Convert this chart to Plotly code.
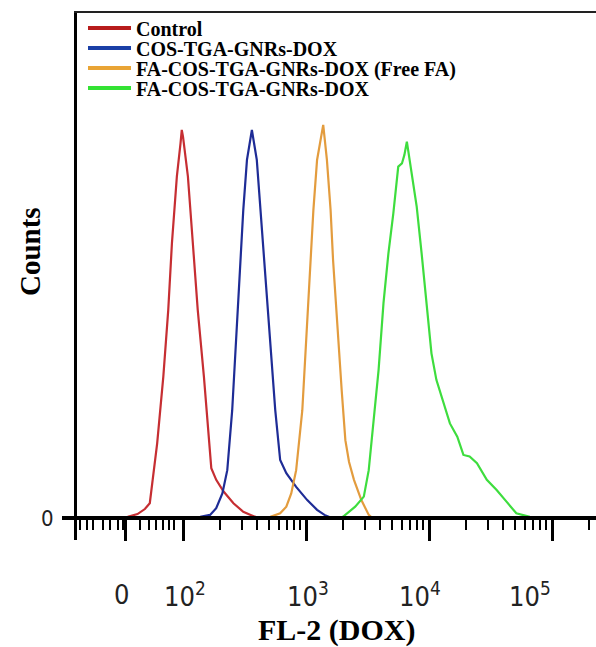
import plotly.graph_objects as go
import math

# ---------------- data (x = log10 FL-2 intensity, y = counts) ----------------
control_x = [1.47, 1.55, 1.63, 1.69, 1.73, 1.79, 1.84, 1.88, 1.91, 1.95, 1.98, 1.99,
             2.00, 2.04, 2.08, 2.12, 2.17, 2.21, 2.23, 2.27, 2.33, 2.41, 2.49, 2.55, 2.61]
control_y = [0, 0.3, 1.0, 2.3, 3.8, 19.2, 36.3, 53.4, 70.6, 87.7, 96.3, 99.7,
             98.0, 87.7, 70.6, 53.4, 36.3, 19.2, 12.8, 9.8, 6.8, 3.8, 1.6, 0.8, 0]

cos_x = [2.06, 2.14, 2.22, 2.27, 2.32, 2.36, 2.40, 2.43, 2.46, 2.49, 2.52, 2.56,
         2.60, 2.63, 2.67, 2.71, 2.75, 2.79, 2.84, 2.92, 3.01, 3.09, 3.15, 3.21]
cos_y = [0, 0.3, 0.8, 2.5, 6.3, 12.3, 27.7, 45.0, 62.0, 79.1, 92.0, 99.7,
         92.0, 79.1, 62.0, 45.0, 27.7, 14.9, 11.5, 8.0, 4.6, 2.1, 0.8, 0]

free_fa_x = [2.64, 2.71, 2.79, 2.84, 2.88, 2.92, 2.97, 3.00, 3.03, 3.06, 3.09, 3.14,
             3.17, 3.20, 3.22, 3.25, 3.29, 3.32, 3.35, 3.39, 3.45, 3.51, 3.54]
free_fa_y = [0, 0.3, 1.2, 2.9, 6.3, 12.3, 27.7, 45.0, 62.0, 79.1, 92.0, 101.0,
             92.0, 79.1, 66.3, 50.9, 32.9, 20.0, 14.4, 9.8, 4.6, 0.8, 0]

fa_x = [3.28, 3.30, 3.40, 3.47, 3.51, 3.55, 3.59, 3.63, 3.67, 3.71, 3.75, 3.78, 3.80,
        3.82, 3.86, 3.90, 3.94, 3.98, 4.02, 4.06, 4.12, 4.17, 4.23, 4.28, 4.33, 4.39,
        4.47, 4.55, 4.63, 4.71, 4.82, 4.93]
fa_y = [0, 0.3, 2.9, 5.5, 12.3, 25.2, 38.0, 55.2, 68.0, 78.3, 90.3, 91.1, 93.3,
        96.7, 88.6, 80.0, 68.0, 55.2, 42.3, 35.5, 29.5, 24.3, 20.9, 16.2, 15.8, 14.1,
        9.8, 7.2, 4.2, 1.2, 0.3, 0]

series_names = ["Control", "COS-TGA-GNRs-DOX", "FA-COS-TGA-GNRs-DOX (Free FA)", "FA-COS-TGA-GNRs-DOX"]
series_x = [control_x, cos_x, free_fa_x, fa_x]
series_y = [control_y, cos_y, free_fa_y, fa_y]

x_tick_labels = ["0", "10<sup>2</sup>", "10<sup>3</sup>", "10<sup>4</sup>", "10<sup>5</sup>"]
x_tick_label_pos = [1.50, 2.02, 3.02, 3.93, 4.82]
x_major_ticks = [1.53, 2, 3, 4, 5]
x_minor_low = [1.16, 1.22, 1.27, 1.35, 1.41, 1.47, 1.51, 1.65, 1.72, 1.78, 1.84, 1.89, 1.93]

# ---------------- styling ----------------
curve_colors = ["#C62E32", "#1E2C96", "#E39C3E", "#3EDD3E"]
legend_colors = ["#B71C1C", "#1A3FA6", "#E9A435", "#33E233"]
serif_bold = dict(family="Liberation Serif, Times New Roman, serif", color="black", weight="bold")
narrow = "Liberation Sans Narrow, DejaVu Sans Condensed, Arial Narrow, sans-serif"

x_minor = list(x_minor_low)
for d in (2, 3, 4):
    for k in range(2, 10):
        x_minor.append(d + math.log10(k))
x_minor.append(5 + math.log10(2))

fig = go.Figure()
for xs, ys, c in zip(series_x, series_y, curve_colors):
    fig.add_trace(go.Scatter(x=xs, y=ys, mode="lines", line=dict(color=c, width=2.2),
                             showlegend=False, hoverinfo="skip"))

legend_ids = ["legend", "legend2", "legend3", "legend4"]
for name, c, lid in zip(series_names, legend_colors, legend_ids):
    fig.add_trace(go.Scatter(x=[None], y=[None], mode="lines", name=name,
                             line=dict(color=c, width=4), legend=lid, showlegend=True))

W, H = 596, 647
ml, mr, mt, mb = 62, 0, 12, 107
pw, ph = W - ml - mr, H - mt - mb

def px_x(p):
    return (p - ml) / pw

def px_y(p):
    return (H - mb - p) / ph

legend_rows_px = [28, 48, 68, 88]
layout_legends = {}
for lid, ry in zip(legend_ids, legend_rows_px):
    layout_legends[lid] = dict(x=px_x(83), y=px_y(ry), xanchor="left", yanchor="middle",
                               bgcolor="rgba(0,0,0,0)", borderwidth=0, itemwidth=43,
                               font=dict(size=20, **serif_bold))

fig.update_layout(
    width=W, height=H,
    margin=dict(l=ml, r=mr, t=mt, b=mb),
    paper_bgcolor="white", plot_bgcolor="white",
    **layout_legends,
    xaxis=dict(range=[2 + (62 - 183) / 123, 2 + (596 - 183) / 123],
               anchor="free", position=px_y(518),
               showline=True, linecolor="black", linewidth=4,
               showgrid=False, zeroline=False,
               tickmode="array", tickvals=x_major_ticks, showticklabels=False,
               ticks="outside", ticklen=21, tickwidth=3, tickcolor="black",
               minor=dict(tickmode="array", tickvals=x_minor, ticks="outside",
                          ticklen=10, tickwidth=2, tickcolor="black", showgrid=False)),
    yaxis=dict(range=[-(540 - 518) / 3.892, (518 - 12) / 3.892],
               anchor="free", position=px_x(75),
               showline=True, linecolor="black", linewidth=3,
               showgrid=False, zeroline=False,
               tickmode="array", tickvals=[0], ticktext=["0"],
               ticks="outside", ticklen=12, tickwidth=3, tickcolor="black",
               ticklabelstandoff=4,
               tickfont=dict(family=narrow, size=22, color="#222")),
    shapes=[dict(type="line", xref="paper", yref="paper", x0=px_x(74), x1=1, y0=1, y1=1,
                 line=dict(color="#222", width=2))],
)

annotations = []
for lab, pos in zip(x_tick_labels, x_tick_label_pos):
    annotations.append(dict(x=pos, xref="x", y=px_y(594), yref="paper", text=lab,
                            showarrow=False, xanchor="center", yanchor="middle",
                            font=dict(family=narrow, size=27, color="#222")))
annotations.append(dict(x=px_x(336), xref="paper", y=px_y(630), yref="paper",
                        text="FL-2 (DOX)", showarrow=False, xanchor="center", yanchor="middle",
                        font=dict(size=30, **serif_bold)))
annotations.append(dict(x=px_x(30), xref="paper", y=px_y(252), yref="paper",
                        text="Counts", textangle=-90, showarrow=False,
                        xanchor="center", yanchor="middle",
                        font=dict(size=29, **serif_bold)))
fig.update_layout(annotations=annotations)

fig.write_html("out.html")
